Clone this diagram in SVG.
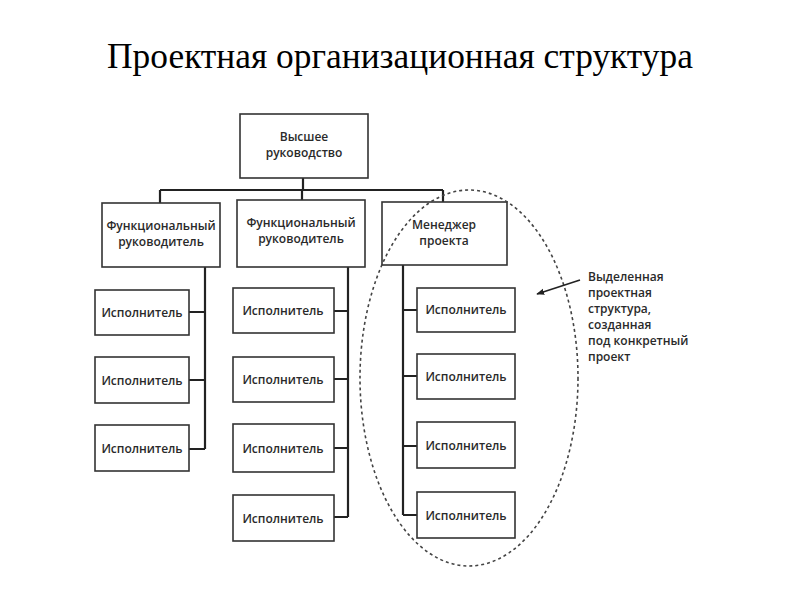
<svg xmlns="http://www.w3.org/2000/svg" width="800" height="600" viewBox="0 0 800 600">
<defs>
<marker id="arr" viewBox="0 0 10 10" refX="9" refY="5" markerWidth="8" markerHeight="8" orient="auto" markerUnits="userSpaceOnUse">
<path d="M0,1 L10,5 L0,9 Z" fill="#222"/>
</marker>
</defs>
<style>
.box{fill:#fff;stroke:#333;stroke-width:1.6}
.t{font-family:"Open Sans","Liberation Sans",sans-serif;font-weight:600;font-size:12px;fill:#2a2a2a;text-anchor:middle}
.ln{stroke:#222;stroke-width:2.2;fill:none}
.title{font-family:"Liberation Serif","Times New Roman",serif;font-size:35.4px;fill:#000;text-anchor:middle}
.note{font-family:"Open Sans","Liberation Sans",sans-serif;font-weight:600;font-size:12px;fill:#2a2a2a}
</style>
<rect width="800" height="600" fill="#fff"/>
<text class="title" x="400" y="68">Проектная организационная структура</text>

<g id="connectors">
<path class="ln" d="M303,178 V190 M160,190 H443 M160,190 V203 M302,190 V200 M443,190 V202"/>
<path class="ln" d="M205,267 V449 M189,312 H205 M189,380 H205 M189,449 H205"/>
<path class="ln" d="M348,267 V517 M334,311 H348 M334,379 H348 M334,448 H348 M334,517 H348"/>
<path class="ln" d="M403,265 V515 M403,310 H417 M403,376 H417 M403,446 H417 M403,515 H417"/>
</g>

<g id="top"><rect class="box" x="240" y="114" width="128" height="64"/><text class="t" x="304" y="141">Высшее</text><text class="t" x="304" y="157">руководство</text></g>
<g id="func1"><rect class="box" x="102" y="203" width="118" height="64"/><text class="t" x="161" y="230">Функциональный</text><text class="t" x="161" y="246">руководитель</text></g>
<g id="func2"><rect class="box" x="237" y="200" width="128" height="67"/><text class="t" x="301" y="227">Функциональный</text><text class="t" x="301" y="243">руководитель</text></g>
<g id="pm"><rect class="box" x="382" y="202" width="125" height="63"/><text class="t" x="444" y="229">Менеджер</text><text class="t" x="444" y="245">проекта</text></g>

<g id="e1-1"><rect class="box" x="95" y="290" width="94" height="45"/><text class="t" x="142" y="317">Исполнитель</text></g>
<g id="e1-2"><rect class="box" x="95" y="357" width="94" height="46"/><text class="t" x="142" y="385">Исполнитель</text></g>
<g id="e1-3"><rect class="box" x="95" y="425" width="94" height="46"/><text class="t" x="142" y="453">Исполнитель</text></g>

<g id="e2-1"><rect class="box" x="233" y="288" width="101" height="45"/><text class="t" x="283" y="315">Исполнитель</text></g>
<g id="e2-2"><rect class="box" x="233" y="357" width="101" height="45"/><text class="t" x="283" y="384">Исполнитель</text></g>
<g id="e2-3"><rect class="box" x="233" y="424" width="101" height="48"/><text class="t" x="283" y="453">Исполнитель</text></g>
<g id="e2-4"><rect class="box" x="233" y="495" width="101" height="46"/><text class="t" x="283" y="523">Исполнитель</text></g>

<g id="e3-1"><rect class="box" x="417" y="288" width="98" height="44"/><text class="t" x="466" y="314">Исполнитель</text></g>
<g id="e3-2"><rect class="box" x="417" y="354" width="98" height="45"/><text class="t" x="466" y="381">Исполнитель</text></g>
<g id="e3-3"><rect class="box" x="417" y="422" width="98" height="46"/><text class="t" x="466" y="450">Исполнитель</text></g>
<g id="e3-4"><rect class="box" x="417" y="492" width="98" height="46"/><text class="t" x="466" y="520">Исполнитель</text></g>

<g id="project-group">
<ellipse cx="469" cy="378" rx="109" ry="188" fill="none" stroke="#444" stroke-width="1.6" stroke-dasharray="3,3"/>
</g>

<g id="annotation">
<line x1="580" y1="280" x2="537" y2="294" stroke="#222" stroke-width="1.6" marker-end="url(#arr)"/>
<text class="note" x="588" y="281">Выделенная</text>
<text class="note" x="588" y="297">проектная</text>
<text class="note" x="588" y="313">структура,</text>
<text class="note" x="588" y="329">созданная</text>
<text class="note" x="588" y="345">под конкретный</text>
<text class="note" x="588" y="361">проект</text>
</g>
</svg>
